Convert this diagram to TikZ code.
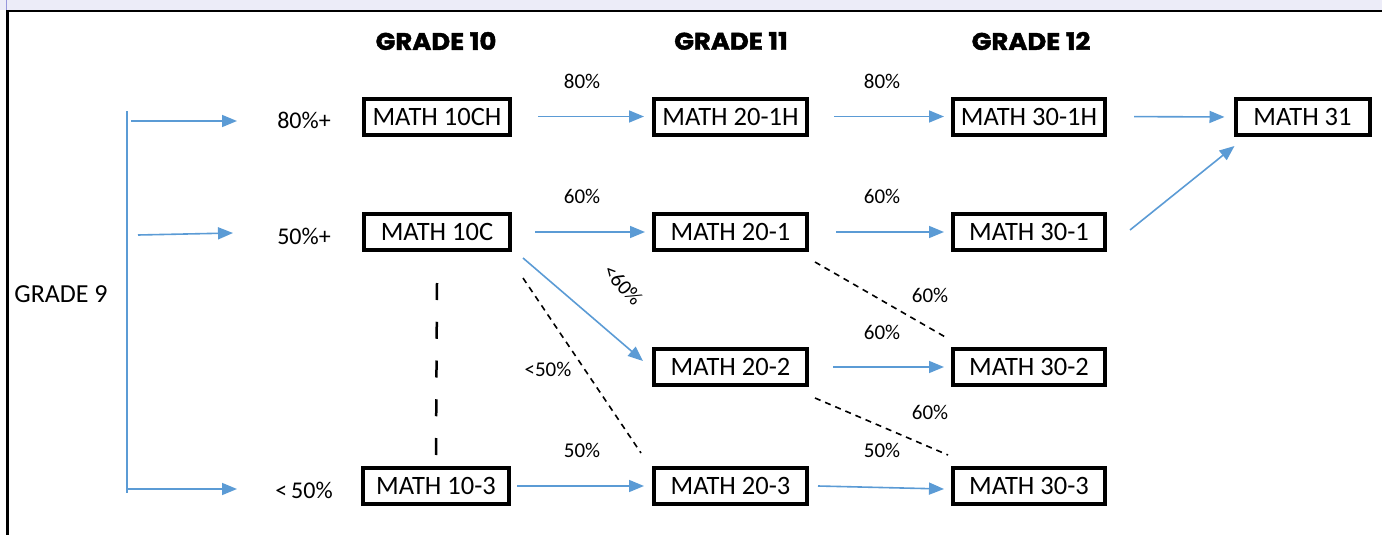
\documentclass[tikz,border=0pt]{standalone}
\usepackage{fontspec}
\setmainfont{Carlito}
\newfontfamily\headfont{Poppins}[BoldFeatures={FakeBold=1.6}]
\usetikzlibrary{arrows.meta}
\definecolor{arrowblue}{HTML}{5B9BD5}
\definecolor{stripcol}{RGB}{236,236,248}
\definecolor{stripline}{RGB}{150,150,220}
\begin{document}
\begin{tikzpicture}[x=1pt,y=-1pt,
  course/.style={draw, line width=4pt, minimum height=36pt, inner sep=0pt,
    font=\fontsize{26.5}{30}\selectfont},
  colA/.style={course, minimum width=146pt},
  colB/.style={course, minimum width=153pt},
  colC/.style={course, minimum width=152pt},
  colD/.style={course, minimum width=134pt},
  heading/.style={font=\headfont\bfseries\fontsize{24}{27}\selectfont, inner sep=0pt},
  sidelabel/.style={font=\fontsize{24}{28}\selectfont, inner sep=0pt},
  pct/.style={font=\fontsize{21}{24}\selectfont, inner sep=0pt},
  flow/.style={draw=arrowblue, line width=1.6pt, -{Triangle[length=15pt,width=12pt]}},
  bracketline/.style={draw=arrowblue, line width=1.6pt},
  finedash/.style={draw=black, line width=1.6pt, dash pattern=on 6pt off 5pt},
  longdash/.style={draw=black, line width=2.5pt, dash pattern=on 17pt off 21.75pt}
]
\useasboundingbox (0,0) rectangle (1382,535);
% frame
\fill[stripcol] (0,0) rectangle (1382,10);
\draw[stripline, line width=1pt] (6.5,0) -- (6.5,10);
\draw[black, line width=2.5pt] (7.5,535) -- (7.5,11) -- (1382,11);

% headings
\node[heading] (g10) at (436,41) {\scalebox{1.08}[1]{GRADE 10}};
\node[heading] (g11) at (731,41) {\scalebox{1.08}[1]{GRADE 11}};
\node[heading] (g12) at (1031,41) {\scalebox{1.08}[1]{GRADE 12}};

% grade 9 and bracket
\node[font=\fontsize{26}{30}\selectfont, inner sep=0pt] (g9) at (61,294) {GRADE 9};
\coordinate (btop) at (127,111);
\coordinate (bbot) at (127,493);
\draw[bracketline] (btop) -- (bbot);
\coordinate (s1) at (131,121);
\coordinate (e1) at (237,121);
\coordinate (s2) at (138,235);
\coordinate (e2) at (233,233);
\coordinate (s3) at (127,489);
\coordinate (e3) at (237,489);
\draw[flow] (s1) -- (e1);
\draw[flow] (s2) -- (e2);
\draw[flow] (s3) -- (e3);

\node[sidelabel] (l80) at (304,120) {80\%+};
\node[sidelabel] (l50) at (304,236) {50\%+};
\node[sidelabel] (llt) at (304,490) {<\,50\%};

% courses
\node[colA] (ch10) at (437,116.5) {MATH 10CH};
\node[colA] (c10)  at (437,232) {MATH 10C};
\node[colA] (m103) at (436,486) {MATH 10-3};
\node[colB] (h201) at (730.5,116.5) {MATH 20-1H};
\node[colB] (m201) at (730.5,232) {MATH 20-1};
\node[colB] (m202) at (730.5,367) {MATH 20-2};
\node[colB] (m203) at (730.5,486) {MATH 20-3};
\node[colC] (h301) at (1029,116.5) {MATH 30-1H};
\node[colC] (m301) at (1029,232) {MATH 30-1};
\node[colC] (m302) at (1029,367) {MATH 30-2};
\node[colC] (m303) at (1029,486) {MATH 30-3};
\node[colD] (m31)  at (1302.5,117) {MATH 31};

% blue arrows
\draw[flow, shorten <=26pt, shorten >=8pt] (ch10.east) -- (h201.west);
\draw[flow, shorten <=25pt, shorten >=7pt] (h201.east) -- (h301.west);
\draw[flow, shorten <=27pt, shorten >=9pt] (h301.east) -- (m31.west);
\draw[flow] ([shift={(23,-2)}]m301.east) -- ([shift={(1,9)}]m31.south west);
\draw[flow, shorten <=23pt, shorten >=7pt] (c10.east) -- (m201.west);
\draw[flow, shorten <=27pt, shorten >=7pt] (m201.east) -- (m301.west);
\draw[flow] ([shift={(11,6)}]c10.south east) -- ([shift={(-9,-6)}]m202.west);
\draw[flow, shorten <=24pt, shorten >=7pt] (m202.east) -- (m302.west);
\draw[flow, shorten <=6pt, shorten >=8pt] (m103.east) -- (m203.west);
\draw[flow] ([shift={(9,0)}]m203.east) -- ([shift={(-7,3)}]m303.west);

% dashed connectors
\draw[longdash] ([yshift=-31pt]c10.south) -- ([yshift=11pt]m103.north);
\draw[finedash] ([shift={(11,26)}]c10.south east) -- ([shift={(-11,-13)}]m203.north west);
\draw[finedash] ([shift={(6,10)}]m201.south east) -- ([shift={(-4,-9)}]m302.north west);
\draw[finedash] ([shift={(6,11)}]m202.south east) -- ([shift={(-3,-11)}]m303.north west);

% percentage labels
\node[pct] (p1) at (582,81) {80\%};
\node[pct] (p2) at (882,81) {80\%};
\node[pct] (p3) at (582,196) {60\%};
\node[pct] (p4) at (882,196) {60\%};
\node[pct, rotate=-48] (p5) at (623,285) {<60\%};
\node[pct] (p6) at (548,369) {<50\%};
\node[pct] (p7) at (930,295) {60\%};
\node[pct] (p8) at (882,332) {60\%};
\node[pct] (p9) at (930,412) {60\%};
\node[pct] (p10) at (582,450) {50\%};
\node[pct] (p11) at (882,450) {50\%};
\end{tikzpicture}
\end{document}
